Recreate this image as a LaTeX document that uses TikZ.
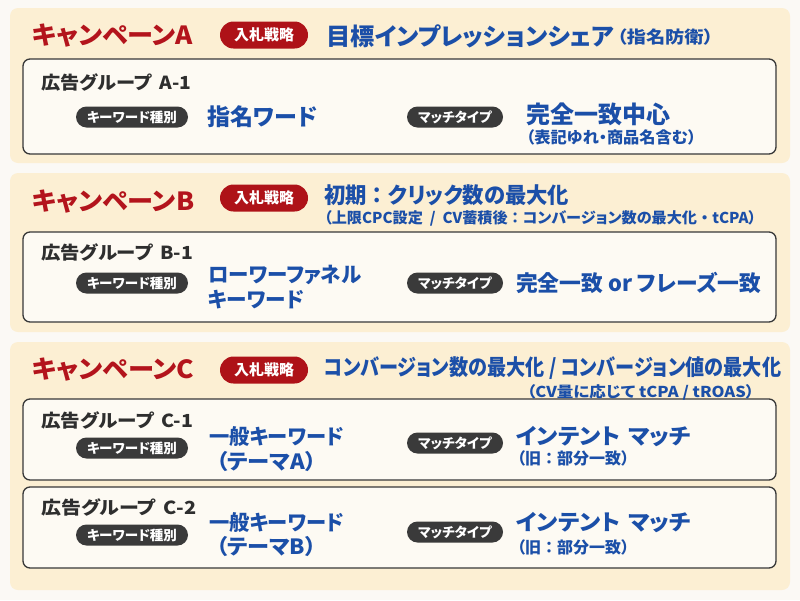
\documentclass[tikz,border=0pt]{standalone}
\usepackage{fontspec}
\usepackage{graphicx}
\setmainfont{Noto Sans CJK JP}[RawFeature=+palt]
\newcommand\myfs[1]{\fontsize{#1}{#1}\selectfont}
\newcommand\fitw[2]{\resizebox{#1pt}{\height}{#2}}
\newcommand\fwc{{\addfontfeature{RawFeature=-palt}：}}
\newcommand\fwdot{{\addfontfeature{RawFeature=-palt}・}}
\definecolor{titlered}{HTML}{B3141C}
\definecolor{pillred}{HTML}{AE1218}
\definecolor{kwblue}{HTML}{1B4FA8}
\definecolor{textdark}{HTML}{2E2E2E}
\definecolor{pillgray}{HTML}{3A3A3A}
\definecolor{cream}{HTML}{FCEFD3}
\definecolor{pagebg}{HTML}{FBF9F5}
\definecolor{boxfill}{HTML}{FDFAF3}
\definecolor{boxline}{HTML}{383838}
\tikzset{
  panel/.style={fill=cream, rounded corners=8pt},
  grpbox/.style={draw=boxline, line width=1.3pt, fill=boxfill, rounded corners=7pt},
  camp/.style={anchor=west, inner sep=0pt, text=titlered, font=\myfs{25}\bfseries},
  bidpill/.style={fill=pillred, text=white, rounded corners=13.5pt, minimum width=88pt, minimum height=27pt, inner sep=0pt, font=\myfs{15}\bfseries},
  graypill/.style={fill=pillgray, text=white, rounded corners=10.5pt, minimum height=21pt, inner sep=0pt, font=\myfs{13.5}\bfseries},
  kwpill/.style={graypill, minimum width=112pt},
  mtpill/.style={graypill, minimum width=96pt},
  grplabel/.style={anchor=west, inner sep=0pt, text=textdark, font=\myfs{18}\bfseries},
  bluetxt/.style={anchor=west, inner sep=0pt, text=kwblue, font=\bfseries},
}
\begin{document}
\begin{tikzpicture}[x=1pt,y=-1pt]
\fill[pagebg] (0,0) rectangle (800,600);
\useasboundingbox (0,0) rectangle (800,600);
% panels
\fill[panel] (10,8) rectangle (790,163);
\fill[panel] (10,173) rectangle (790,332);
\fill[panel] (10,342) rectangle (790,590);
\draw[grpbox] (23,59) rectangle (776,154);
\draw[grpbox] (23,232) rectangle (776,322);
\draw[grpbox] (23,399) rectangle (776,480);
\draw[grpbox] (23,487) rectangle (776,568);

% Campaign A
\node[camp] (cA) at (32,36) {\fitw{161}{キャンペーンA}};
\node[bidpill] (bA) at (264,35) {入札戦略};
\node[bluetxt, font=\myfs{24}\bfseries] (sA) at (326,36) {\fitw{288}{目標インプレッションシェア}};
\node[bluetxt, font=\myfs{17}\bfseries] (sAp) at (617,37) {\fitw{96}{（指名防衛）}};
\node[grplabel] (gA) at (41,82) {\fitw{150}{広告グループ\hspace{0.4em}A-1}};
\node[kwpill] (kA) at (132,117) {キーワード種別};
\node[bluetxt, font=\myfs{23}\bfseries] (kvA) at (207,117) {\fitw{110}{指名ワード}};
\node[mtpill] (mA) at (455,117) {マッチタイプ};
\node[bluetxt, font=\myfs{24}\bfseries] (mvA) at (526,114) {\fitw{144}{完全一致中心}};
\node[bluetxt, font=\myfs{16}\bfseries] (mnA) at (526,137) {\fitw{170}{（表記ゆれ・商品名含む）}};

% Campaign B
\node[camp] (cB) at (32,202) {\fitw{162}{キャンペーンB}};
\node[bidpill] (bB) at (264,198) {入札戦略};
\node[bluetxt, font=\myfs{22}\bfseries] (sB) at (324,195) {\fitw{245}{初期\fwc クリック数の最大化}};
\node[bluetxt, font=\myfs{15}\bfseries] (sB2) at (324,218) {\fitw{432}{（上限CPC設定\ \ /\ \ CV蓄積後\fwc コンバージョン数の最大化\fwdot tCPA）}};
\node[grplabel] (gB) at (41,252) {\fitw{152}{広告グループ\hspace{0.4em}B-1}};
\node[kwpill] (kB) at (132,283) {キーワード種別};
\node[bluetxt, font=\myfs{21}\bfseries] (kvB) at (208,275) {\fitw{153}{ローワーファネル}};
\node[bluetxt, font=\myfs{21}\bfseries] (kvB2) at (208,300) {\fitw{96}{キーワード}};
\node[mtpill] (mB) at (455,283) {マッチタイプ};
\node[bluetxt, font=\myfs{22}\bfseries] (mvB) at (516,283) {\fitw{245}{完全一致 or フレーズ一致}};

% Campaign C
\node[camp] (cC) at (32,370) {\fitw{162}{キャンペーンC}};
\node[bidpill] (bC) at (264,370) {入札戦略};
\node[bluetxt, font=\myfs{22}\bfseries] (sC) at (324,368) {\fitw{457}{コンバージョン数の最大化\ /\ コンバージョン値の最大化}};
\node[bluetxt, font=\myfs{15}\bfseries] (sC2) at (527,392) {\fitw{227}{（CV量に応じて tCPA\ /\ tROAS）}};

\node[grplabel] (gC1) at (41,420) {\fitw{152}{広告グループ\hspace{0.4em}C-1}};
\node[kwpill] (kC1) at (132,448) {キーワード種別};
\node[bluetxt, font=\myfs{21}\bfseries] (kvC1) at (209,437) {\fitw{135}{一般キーワード}};
\node[bluetxt, font=\myfs{21}\bfseries] (kvC1b) at (216,462) {\fitw{100}{（テーマA）}};
\node[mtpill] (mC1) at (455,443) {マッチタイプ};
\node[bluetxt, font=\myfs{22}\bfseries] (mvC1) at (516,437) {\fitw{175}{インテント\hspace{0.35em}マッチ}};
\node[bluetxt, font=\myfs{16}\bfseries] (mnC1) at (517,458) {\fitw{112}{（旧\fwc 部分一致）}};

\node[grplabel] (gC2) at (41,507) {\fitw{155}{広告グループ\hspace{0.4em}C-2}};
\node[kwpill] (kC2) at (132,535) {キーワード種別};
\node[bluetxt, font=\myfs{21}\bfseries] (kvC2) at (209,522) {\fitw{135}{一般キーワード}};
\node[bluetxt, font=\myfs{21}\bfseries] (kvC2b) at (216,547) {\fitw{100}{（テーマB）}};
\node[mtpill] (mC2) at (455,532) {マッチタイプ};
\node[bluetxt, font=\myfs{22}\bfseries] (mvC2) at (516,523) {\fitw{175}{インテント\hspace{0.35em}マッチ}};
\node[bluetxt, font=\myfs{16}\bfseries] (mnC2) at (517,547) {\fitw{112}{（旧\fwc 部分一致）}};
\end{tikzpicture}
\end{document}
